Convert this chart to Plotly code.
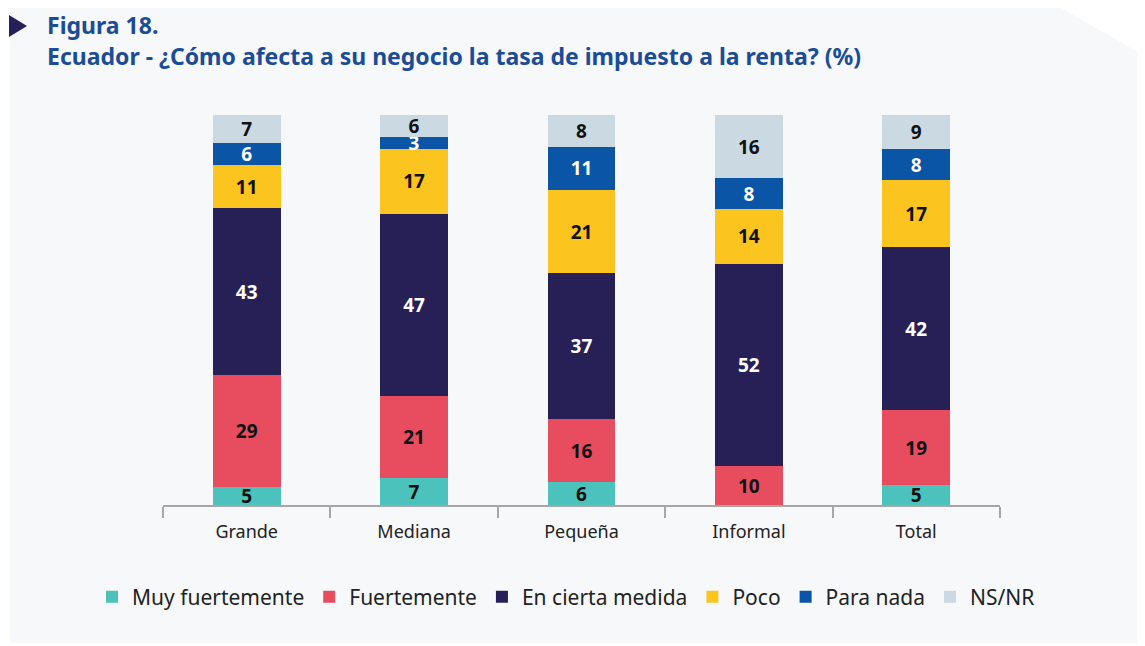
import plotly.graph_objects as go

categories = ["Grande", "Mediana", "Pequeña", "Informal", "Total"]
series_names = ["Muy fuertemente", "Fuertemente", "En cierta medida", "Poco", "Para nada", "NS/NR"]
muy_fuertemente = [4.6, 6.9, 5.8, 0.0, 5.1]
fuertemente = [28.7, 21.0, 16.3, 10.0, 19.2]
en_cierta_medida = [42.8, 46.7, 37.3, 51.8, 41.8]
poco = [11.0, 16.7, 21.4, 14.1, 17.2]
para_nada = [5.6, 3.1, 11.0, 7.9, 7.9]
ns_nr = [7.3, 5.6, 8.2, 16.2, 8.8]

series_values = [muy_fuertemente, fuertemente, en_cierta_medida, poco, para_nada, ns_nr]
colors = ["#4cc2bd", "#e84c5f", "#262057", "#fcc41e", "#0a55a5", "#cbd9e3"]
label_colors = ["#111111", "#111111", "#ffffff", "#111111", "#ffffff", "#111111"]

# page has an 8px body margin: work in page coordinates and shift
OFF = 8
W, H = 1145 - OFF, 646 - OFF
L, R, T, B = 163 - OFF, 145, 115 - OFF, 141
pw, ph = W - L - R, H - T - B

def px(x):
    return (x - OFF - L) / pw

def py(y):
    return (H - B - (y - OFF)) / ph

fig = go.Figure()
for name, vals, c, lc in zip(series_names, series_values, colors, label_colors):
    fig.add_trace(go.Bar(
        name=name, x=categories, y=vals, marker=dict(color=c, line=dict(width=0)),
        width=0.405,
        text=[f"{round(v)}" if v > 0 else "" for v in vals],
        textposition="inside", insidetextanchor="middle", textangle=0,
        insidetextfont=dict(family="Noto Sans", size=19, color=lc, weight="bold"),
        hoverinfo="skip",
    ))

panel = [(10, 0), (1047, 0), (1145, 56), (1145, 643), (10, 643)]
path = "M " + " L ".join(f"{px(x)},{py(y)}" for x, y in panel) + " Z"
tri = [(9, 15), (9, 37), (27, 26)]
tpath = "M " + " L ".join(f"{px(x)},{py(y)}" for x, y in tri) + " Z"

fig.update_layout(
    width=W, height=H, margin=dict(l=L, r=R, t=T, b=B),
    barmode="stack", paper_bgcolor="#ffffff", plot_bgcolor="rgba(0,0,0,0)",
    font=dict(family="Noto Sans", color="#222222"),
    uniformtext=dict(minsize=19, mode="show"),
    showlegend=True,
    legend=dict(orientation="h", xref="paper", yref="paper", x=px(92), y=py(597),
                xanchor="left", yanchor="middle", font=dict(size=21, color="#222222"),
                bgcolor="rgba(0,0,0,0)", traceorder="normal", itemclick=False),
    shapes=[
        dict(type="path", path=path, xref="paper", yref="paper", fillcolor="#f7f8fa",
             line=dict(width=0), layer="below"),
        dict(type="path", path=tpath, xref="paper", yref="paper", fillcolor="#25205a",
             line=dict(width=0)),
    ],
    annotations=[
        dict(text="<b>Figura 18.</b>", xref="paper", yref="paper", x=px(45), y=py(25),
             xanchor="left", yanchor="middle", showarrow=False,
             font=dict(size=23, color="#1a4c97")),
        dict(text="<b>Ecuador - ¿Cómo afecta a su negocio la tasa de impuesto a la renta? (%)</b>",
             xref="paper", yref="paper", x=px(45), y=py(56),
             xanchor="left", yanchor="middle", showarrow=False,
             font=dict(size=23, color="#1a4c97")),
    ],
)
fig.update_xaxes(showline=True, linecolor="#a6a6a6", linewidth=1.5, ticks="outside",
                 tickson="boundaries", ticklen=11, tickcolor="#a6a6a6", tickwidth=1.5,
                 ticklabelstandoff=10,
                 tickfont=dict(size=18, color="#222222"), showgrid=False)
fig.update_yaxes(range=[0, 100], visible=False, showgrid=False)

fig.write_html("out.html")
